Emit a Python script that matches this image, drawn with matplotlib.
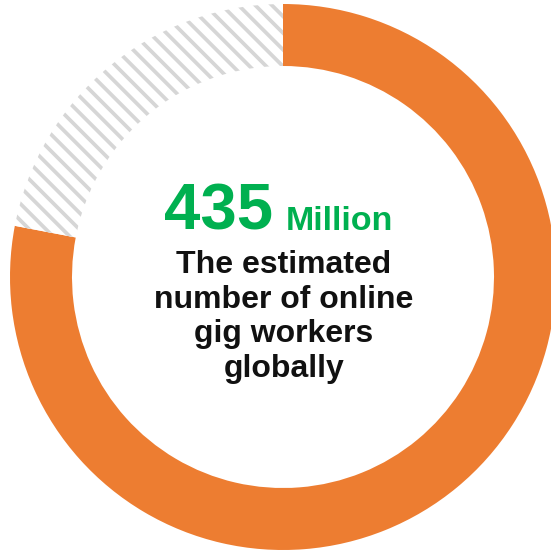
import matplotlib.pyplot as plt

# data
shares = [78, 22]
ring_colors = ['#ED7D31', 'white']
big_number = '435'
unit = 'Million'
caption = ['The estimated', 'number of online', 'gig workers', 'globally']

plt.rcParams['font.family'] = ['Liberation Sans', 'DejaVu Sans']
plt.rcParams['hatch.color'] = '#d6d6d6'
plt.rcParams['hatch.linewidth'] = 2.7

fig = plt.figure(figsize=(5.51, 5.53), dpi=100)
ax = fig.add_axes([0, 0, 1, 1])

wedges, _ = ax.pie(shares, colors=ring_colors, startangle=90, counterclock=False,
                   radius=273, center=(283, 276),
                   wedgeprops=dict(width=62, linewidth=0))
wedges[1].set_hatch('\\\\')

# pie() sets its own limits, so set them afterwards
ax.set_xlim(0, 551)
ax.set_ylim(0, 553)
ax.set_aspect('equal')
ax.axis('off')

# centre label
ax.text(273, 553 - 230, big_number, ha='right', va='baseline',
        fontsize=47, fontweight='bold', color='#00B050')
ax.text(286, 553 - 230, unit, ha='left', va='baseline',
        fontsize=24.5, fontweight='bold', color='#00B050')
for i, line in enumerate(caption):
    ax.text(284, 553 - (273 + 34.7 * i), line, ha='center', va='baseline',
            fontsize=23, fontweight='bold', color='#111111')

plt.savefig('out.png', dpi=100)
